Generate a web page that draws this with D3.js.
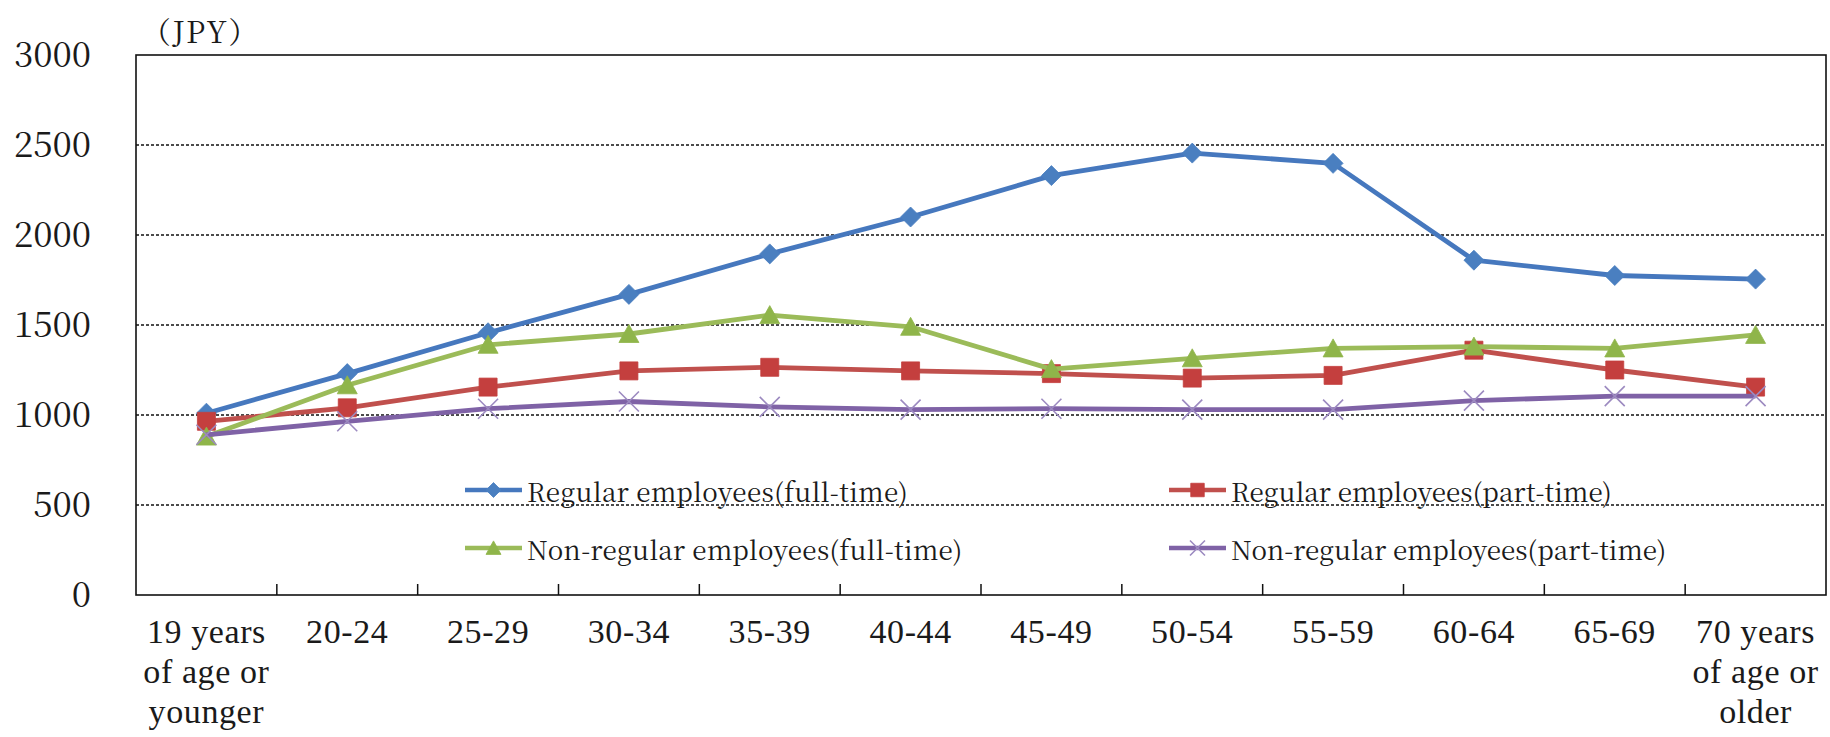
<!DOCTYPE html>
<html>
<head>
<meta charset="utf-8">
<script src="https://cdn.jsdelivr.net/npm/d3@7"></script>
<style>
  html, body { margin: 0; padding: 0; background: #fff; }
  svg { display: block; }
  text { font-family: "Noto Serif CJK JP", "Liberation Serif", serif; fill: #1a1a1a; }
  text.xlabel { font-family: "Liberation Serif", serif; }
</style>
</head>
<body>
<svg id="chart" width="1830" height="737"></svg>
<script>
// Age groups on the x axis
const categories = [
  "19 years of age or younger", "20-24", "25-29", "30-34", "35-39", "40-44",
  "45-49", "50-54", "55-59", "60-64", "65-69", "70 years of age or older"
];
// Tick label lines for each age group
const categoryLines = [
  ["19 years", "of age or", "younger"], ["20-24"], ["25-29"], ["30-34"], ["35-39"],
  ["40-44"], ["45-49"], ["50-54"], ["55-59"], ["60-64"], ["65-69"],
  ["70 years", "of age or", "older"]
];

// Hourly wage (JPY) by employment type
const regularFullTime    = [1010, 1230, 1457, 1670, 1895, 2100, 2330, 2455, 2398, 1860, 1775, 1755];
const regularPartTime    = [965, 1040, 1155, 1245, 1265, 1245, 1230, 1205, 1220, 1360, 1250, 1155];
const nonRegularFullTime = [880, 1165, 1390, 1450, 1555, 1490, 1255, 1315, 1370, 1380, 1370, 1445];
const nonRegularPartTime = [890, 965, 1035, 1075, 1045, 1030, 1035, 1030, 1030, 1080, 1105, 1105];

const seriesNames = [
  "Regular employees(full-time)",
  "Regular employees(part-time)",
  "Non-regular employees(full-time)",
  "Non-regular employees(part-time)"
];

const yTicks = [0, 500, 1000, 1500, 2000, 2500, 3000];
const yUnit = "（JPY）";

// ---- layout ----
const plot = { left: 136, right: 1826, top: 55, bottom: 595 };

const svg = d3.select("#chart");

const x = d3.scaleBand().domain(categories).range([plot.left, plot.right]);
const y = d3.scaleLinear().domain([0, 3000]).range([plot.bottom, plot.top]);

const series = [
  { name: seriesNames[0], values: regularFullTime,    line: "#4678BE", fill: "#4A7FC0", shape: "diamond" },
  { name: seriesNames[1], values: regularPartTime,    line: "#C0504D", fill: "#C43F3E", shape: "square" },
  { name: seriesNames[2], values: nonRegularFullTime, line: "#9BBB59", fill: "#8FB54A", shape: "triangle" },
  { name: seriesNames[3], values: nonRegularPartTime, line: "#7F62A6", fill: "#9C8AC0", shape: "cross" }
];

// ---- gridlines ----
svg.append("g")
  .selectAll("line")
  .data(yTicks.filter(t => t > 0 && t < 3000))
  .join("line")
  .attr("x1", plot.left).attr("x2", plot.right)
  .attr("y1", d => y(d)).attr("y2", d => y(d))
  .attr("stroke", "#111")
  .attr("stroke-width", 1.3)
  .attr("stroke-dasharray", "3,2");

// ---- y axis labels ----
const yAxis = svg.append("g")
  .attr("transform", `translate(${plot.left},0)`)
  .call(d3.axisLeft(y).tickValues(yTicks).tickSize(0).tickPadding(45).tickFormat(d3.format("d")));
yAxis.select(".domain").remove();
yAxis.selectAll("text")
  .style("font-size", "35px")
  .attr("fill", "#1a1a1a");

svg.append("text")
  .attr("x", 141).attr("y", 43)
  .style("font-size", "30px")
  .attr("letter-spacing", 1.5)
  .text(yUnit);

// ---- x axis ticks and labels ----
const xAxis = svg.append("g")
  .attr("transform", `translate(0,${plot.bottom})`)
  .call(d3.axisBottom(x).tickSize(0).tickPadding(0).tickFormat(""));
xAxis.select(".domain").remove();

xAxis.selectAll(".tick text")
  .text(null)
  .attr("class", "xlabel")
  .attr("y", 0).attr("dy", null)
  .style("font-size", "34px")
  .attr("letter-spacing", 0.6)
  .attr("fill", "#1a1a1a")
  .each(function(d) {
    const lines = categoryLines[categories.indexOf(d)];
    const t = d3.select(this);
    lines.forEach((ln, i) => {
      t.append("tspan").attr("x", 0).attr("y", 48 + i * 40).text(ln);
    });
  });

// tick marks at category boundaries, pointing up into the plot
svg.append("g")
  .selectAll("line")
  .data(categories.slice(1))
  .join("line")
  .attr("x1", d => x(d)).attr("x2", d => x(d))
  .attr("y1", plot.bottom).attr("y2", plot.bottom - 11)
  .attr("stroke", "#111")
  .attr("stroke-width", 1.5);

// plot frame
svg.append("rect")
  .attr("x", plot.left).attr("y", plot.top)
  .attr("width", plot.right - plot.left)
  .attr("height", plot.bottom - plot.top)
  .attr("fill", "none")
  .attr("stroke", "#111")
  .attr("stroke-width", 1.6);

// ---- marker shapes ----
function markerPath(shape, s) {
  switch (shape) {
    case "diamond":  return `M0,${-s}L${s},0L0,${s}L${-s},0Z`;
    case "square":   return `M${-s * 0.9},${-s * 0.9}H${s * 0.9}V${s * 0.9}H${-s * 0.9}Z`;
    case "triangle": return `M0,${-s * 0.95}L${s},${s * 0.85}L${-s},${s * 0.85}Z`;
    case "cross":    return `M${-s},${-s}L${s},${s}M${s},${-s}L${-s},${s}`;
  }
}

function drawMarker(g, shape, s, sr) {
  const p = g.append("path").attr("d", markerPath(shape, s));
  if (shape === "cross") {
    p.attr("fill", "none").attr("stroke", sr.fill).attr("stroke-width", 1.6);
  } else {
    p.attr("fill", sr.fill).attr("stroke", sr.fill).attr("stroke-width", 0.8);
  }
}

// ---- series lines and markers ----
const line = d3.line()
  .x((d, i) => x(categories[i]) + x.bandwidth() / 2)
  .y(d => y(d));

series.forEach(sr => {
  const g = svg.append("g");
  g.append("path")
    .attr("d", line(sr.values))
    .attr("fill", "none")
    .attr("stroke", sr.line)
    .attr("stroke-width", 4.8)
    .attr("stroke-linejoin", "round");
  sr.values.forEach((v, i) => {
    const m = g.append("g")
      .attr("transform", `translate(${x(categories[i]) + x.bandwidth() / 2},${y(v)})`);
    drawMarker(m, sr.shape, 10, sr);
  });
});

// ---- legend ----
const legendItems = [
  { sr: series[0], lx: 465, ly: 490 },
  { sr: series[1], lx: 1169, ly: 490 },
  { sr: series[2], lx: 465, ly: 548 },
  { sr: series[3], lx: 1169, ly: 548 }
];
legendItems.forEach(it => {
  const g = svg.append("g").attr("transform", `translate(${it.lx},${it.ly})`);
  g.append("line")
    .attr("x1", 0).attr("x2", 57).attr("y1", 0).attr("y2", 0)
    .attr("stroke", it.sr.line).attr("stroke-width", 4.5);
  const m = g.append("g").attr("transform", "translate(28.5,0)");
  drawMarker(m, it.sr.shape, 7.5, it.sr);
  // half-width character cells, as in the original legend typesetting
  g.append("text")
    .attr("x", 62).attr("y", 12)
    .style("font-size", "26px")
    .attr("textLength", it.sr.name.length * 13.6)
    .attr("lengthAdjust", "spacing")
    .text(it.sr.name);
});
</script>
</body>
</html>
